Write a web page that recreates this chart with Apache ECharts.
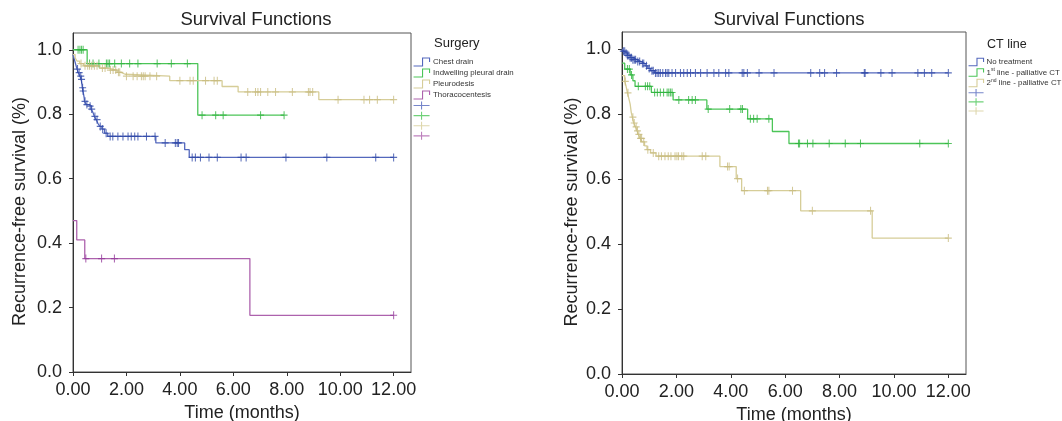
<!DOCTYPE html>
<html>
<head>
<meta charset="utf-8">
<title>Survival Functions</title>
<script src="https://cdn.jsdelivr.net/npm/echarts@6/dist/echarts.min.js"></script>
<style>
html, body { margin: 0; padding: 0; background: #fff; }
#main { width: 1062px; height: 421px; }
</style>
</head>
<body>
<div id="main"></div>
<script>
// axis ticks
var timeTicks = [0, 2, 4, 6, 8, 10, 12];
var survTicks = [0, 0.2, 0.4, 0.6, 0.8, 1.0];

// ---- left panel: Surgery ----
var chestT = [0, 0.05, 0.1, 0.15, 0.2, 0.26, 0.31, 0.33, 0.35, 0.37, 0.4, 0.42, 0.43, 0.5, 0.6, 0.68, 0.75, 0.8, 0.87, 0.93, 1.0, 1.08, 1.18, 1.3, 3.1, 4.18, 4.35, 12];
var chestS = [0.985, 0.97, 0.955, 0.94, 0.929, 0.918, 0.908, 0.895, 0.882, 0.872, 0.86, 0.85, 0.84, 0.83, 0.825, 0.816, 0.805, 0.793, 0.783, 0.772, 0.762, 0.754, 0.741, 0.731, 0.711, 0.69, 0.666, 0.666];
var chestCens = [0.17, 0.23, 0.29, 0.32, 0.36, 0.38, 0.45, 0.52, 0.64, 0.7, 0.82, 0.9, 1.02, 1.11, 1.24, 1.39, 1.49, 1.68, 1.87, 2.06, 2.18, 2.31, 2.43, 2.75, 3.07, 3.45, 3.83, 3.9, 3.95, 4.46, 4.58, 4.77, 5.09, 5.4, 6.29, 6.48, 7.97, 9.5, 11.33, 12];

var drainT = [0, 0.53, 4.67, 7.9];
var drainS = [1.0, 0.957, 0.797, 0.797];
var drainCens = [0.19, 0.26, 0.32, 0.38, 0.62, 0.75, 0.97, 1.25, 1.31, 1.37, 1.56, 1.81, 2.12, 2.43, 3.15, 3.68, 4.28, 4.83, 5.34, 5.62, 7.02, 7.9];

var pleuT = [0, 0.08, 0.15, 0.25, 0.4, 1.0, 1.3, 1.65, 1.8, 1.95, 3.62, 5.58, 6.18, 9.2, 12];
var pleuS = [0.985, 0.975, 0.965, 0.957, 0.95, 0.943, 0.937, 0.93, 0.924, 0.918, 0.904, 0.886, 0.869, 0.845, 0.845];
var pleuCens = [0.3, 0.45, 0.55, 0.62, 0.7, 0.8, 0.9, 1.1, 1.2, 1.4, 1.5, 1.6, 1.7, 1.75, 2.0, 2.25, 2.4, 2.56, 2.63, 2.7, 2.88, 3.13, 4.0, 4.38, 4.5, 4.96, 5.28, 5.4, 6.54, 6.83, 6.92, 7.02, 7.29, 7.58, 8.21, 8.81, 8.87, 8.97, 9.92, 10.89, 11.1, 11.39, 12];

var thorT = [0, 0.14, 0.44, 6.62, 12];
var thorS = [0.47, 0.41, 0.352, 0.176, 0.176];
var thorCens = [0.48, 1.07, 1.55, 12];

// ---- right panel: CT line ----
var noT = [0, 0.05, 0.12, 0.2, 0.3, 0.4, 0.55, 0.7, 0.85, 0.95, 1.05, 1.2, 12];
var noS = [1.0, 0.993, 0.987, 0.98, 0.973, 0.967, 0.961, 0.955, 0.948, 0.94, 0.933, 0.926, 0.926];
var noCens = [0.05, 0.1, 0.15, 0.2, 0.25, 0.3, 0.35, 0.4, 0.45, 0.5, 0.58, 0.65, 0.75, 0.8, 0.9, 1.0, 1.1, 1.15, 1.23, 1.29, 1.35, 1.41, 1.5, 1.6, 1.66, 1.72, 1.84, 1.97, 2.15, 2.27, 2.4, 2.52, 2.7, 2.89, 3.13, 3.38, 3.56, 3.81, 3.93, 4.42, 4.48, 4.61, 5.04, 5.59, 6.94, 7.27, 7.45, 7.89, 8.91, 8.94, 9.52, 9.93, 10.88, 11.12, 11.39, 12];

var firstT = [0, 0.1, 0.3, 0.4, 0.48, 1.08, 1.88, 3.12, 4.62, 5.53, 6.14, 12];
var firstS = [0.956, 0.938, 0.92, 0.902, 0.885, 0.866, 0.843, 0.815, 0.785, 0.746, 0.709, 0.709];
var firstCens = [0.2, 0.27, 0.35, 0.6, 0.86, 0.94, 1.02, 1.2, 1.3, 1.41, 1.53, 1.66, 1.72, 1.78, 1.84, 2.09, 2.45, 2.58, 2.7, 3.17, 3.96, 4.37, 4.43, 4.72, 4.84, 4.97, 5.4, 6.49, 6.53, 6.82, 7.02, 7.62, 8.21, 8.77, 10.95, 12];

var secondT = [0, 0.1, 0.15, 0.2, 0.25, 0.3, 0.34, 0.38, 0.43, 0.5, 0.55, 0.6, 0.67, 0.74, 0.83, 0.92, 1.05, 1.25, 3.6, 4.2, 4.4, 6.57, 9.2, 12];
var secondS = [0.918, 0.9, 0.885, 0.865, 0.848, 0.83, 0.805, 0.79, 0.772, 0.76, 0.748, 0.737, 0.725, 0.714, 0.702, 0.69, 0.68, 0.67, 0.638, 0.601, 0.564, 0.502, 0.418, 0.418];
var secondCens = [0.12, 0.22, 0.4, 0.45, 0.52, 0.57, 0.62, 0.68, 0.72, 0.8, 0.95, 1.15, 1.35, 1.45, 1.58, 1.7, 1.8, 1.95, 2.02, 2.08, 2.2, 2.27, 2.95, 3.08, 3.88, 3.94, 4.25, 4.5, 5.35, 5.4, 6.27, 7.0, 9.14, 12];

var FONT = 'Liberation Sans, Arial, Helvetica, sans-serif';
var BLUE = '#5468bd', BLUE_M = '#3048a8';
var GREEN = '#4cc558', GREEN_M = '#2fb43e';
var TAN = '#d6cd98', TAN_M = '#c8bc80';
var PURPLE = '#ad62ad', PURPLE_M = '#93399a';

var stepIcon = 'path://M0,8L9,8L9,0L16,0L16,4';
var crossIcon = 'path://M0,4L16,4M8,0L8,8';
var crossMark = 'path://M0,5L10,5M5,0L5,10';

// value of the step curve at time t
function survAt(T, S, t) {
    var v = S[0];
    for (var i = 0; i < T.length; i++) {
        if (T[i] <= t) v = S[i];
    }
    return v;
}

function curve(name, T, S, idx, color) {
    return {
        name: name, type: 'line', step: 'end',
        xAxisIndex: idx, yAxisIndex: idx,
        showSymbol: false, silent: true,
        lineStyle: { color: color, width: 1.3 },
        itemStyle: { color: color },
        data: T.map(function (t, i) { return [t, S[i]]; }),
        z: 2
    };
}

function marks(name, T, S, cens, idx, color) {
    return {
        name: name, type: 'scatter',
        xAxisIndex: idx, yAxisIndex: idx,
        symbol: crossMark, symbolSize: [7, 8], silent: true,
        itemStyle: { color: 'rgba(0,0,0,0)', borderColor: color, borderWidth: 1.1 },
        data: cens.map(function (t) { return [t, survAt(T, S, t)]; }),
        z: 3
    };
}

function legendItem(name, icon, color) {
    return { name: name, icon: icon, itemStyle: { color: 'rgba(0,0,0,0)', borderColor: color, borderWidth: 1.1 } };
}

function xAxisOf(idx) {
    return {
        type: 'value', gridIndex: idx, min: 0, max: 12.65,
        name: 'Time (months)', nameLocation: 'middle', nameGap: 31,
        nameTextStyle: { fontFamily: FONT, fontSize: 18, color: '#222' },
        axisLine: { show: true, onZero: false, lineStyle: { color: '#333', width: 1 } },
        axisTick: { show: true, length: 4, customValues: timeTicks, lineStyle: { color: '#333' } },
        axisLabel: { customValues: timeTicks, margin: 9, fontFamily: FONT, fontSize: 18, color: '#222',
            formatter: function (v) { return v.toFixed(2); } },
        splitLine: { show: false }
    };
}

function yAxisOf(idx, gap) {
    return {
        type: 'value', gridIndex: idx, min: 0, max: 1.052,
        name: 'Recurrence-free survival (%)', nameLocation: 'middle', nameGap: gap,
        nameTextStyle: { fontFamily: FONT, fontSize: 18, color: '#222', padding: [0, 18, 0, 0] },
        axisLine: { show: true, lineStyle: { color: '#333', width: 1 } },
        axisTick: { show: true, length: 4, customValues: survTicks, lineStyle: { color: '#333' } },
        axisLabel: { customValues: survTicks, margin: 11, fontFamily: FONT, fontSize: 18, color: '#222',
            formatter: function (v) { return v.toFixed(1); } },
        splitLine: { show: false }
    };
}

var legendText = {
    'Chest drain': 'Chest drain',
    'Indwelling pleural drain': 'Indwelling pleural drain',
    'Pleurodesis': 'Pleurodesis',
    'Thoracocentesis': 'Thoracocentesis',
    'No treatment': 'No treatment',
    '1st line - palliative CT': '1{sup|st} line - palliative CT',
    '2nd line - palliative CT': '2{sup|nd} line - palliative CT'
};

var legendBase = {
    orient: 'vertical', padding: 0, itemWidth: 17, itemHeight: 8, itemGap: 1,
    selectedMode: false,
    textStyle: { fontFamily: FONT, fontSize: 7.9, lineHeight: 10, color: '#333', padding: [0, 0, 0, -2],
        rich: { sup: { fontSize: 5, lineHeight: 10, verticalAlign: 'top', padding: [0, 0, 4, 0], color: '#333' } } },
    formatter: function (name) { return legendText[name] || ''; }
};

var myChart = echarts.init(document.getElementById('main'), null, { renderer: 'canvas' });

myChart.setOption({
    animation: false,
    backgroundColor: '#fff',
    title: [
        { text: 'Survival Functions', left: 256, top: 10, textAlign: 'center', padding: 0,
          textStyle: { fontFamily: FONT, fontSize: 18.5, fontWeight: 'normal', color: '#222' } },
        { text: 'Surgery', left: 434, top: 37, padding: 0,
          textStyle: { fontFamily: FONT, fontSize: 13, fontWeight: 'normal', color: '#222' } },
        { text: 'Survival Functions', left: 789, top: 10, textAlign: 'center', padding: 0,
          textStyle: { fontFamily: FONT, fontSize: 18.5, fontWeight: 'normal', color: '#222' } },
        { text: 'CT line', left: 987, top: 38, padding: 0,
          textStyle: { fontFamily: FONT, fontSize: 12.5, fontWeight: 'normal', color: '#222' } }
    ],
    grid: [
        { left: 73, top: 33, width: 338, height: 339, outerBoundsMode: 'none',
          show: true, borderColor: '#555', borderWidth: 1, backgroundColor: 'transparent' },
        { left: 622, top: 32, width: 344, height: 342, outerBoundsMode: 'none',
          show: true, borderColor: '#555', borderWidth: 1, backgroundColor: 'transparent' }
    ],
    xAxis: [xAxisOf(0), xAxisOf(1)],
    yAxis: [yAxisOf(0, 44), yAxisOf(1, 41)],
    legend: [
        Object.assign({}, legendBase, {
            left: 413, top: 57,
            data: [
                legendItem('Chest drain', stepIcon, BLUE),
                legendItem('Indwelling pleural drain', stepIcon, GREEN),
                legendItem('Pleurodesis', stepIcon, TAN),
                legendItem('Thoracocentesis', stepIcon, PURPLE),
                legendItem('Chest drain censored', crossIcon, BLUE),
                legendItem('Indwelling pleural drain censored', crossIcon, GREEN),
                legendItem('Pleurodesis censored', crossIcon, TAN),
                legendItem('Thoracocentesis censored', crossIcon, PURPLE)
            ]
        }),
        Object.assign({}, legendBase, {
            left: 968, top: 57, itemWidth: 15, itemGap: 0.5,
            data: [
                legendItem('No treatment', stepIcon, BLUE),
                legendItem('1st line - palliative CT', stepIcon, GREEN),
                legendItem('2nd line - palliative CT', stepIcon, TAN),
                legendItem('No treatment censored', crossIcon, BLUE),
                legendItem('1st line - palliative CT censored', crossIcon, GREEN),
                legendItem('2nd line - palliative CT censored', crossIcon, TAN)
            ]
        })
    ],
    series: [
        curve('Chest drain', chestT, chestS, 0, BLUE),
        curve('Indwelling pleural drain', drainT, drainS, 0, GREEN),
        curve('Pleurodesis', pleuT, pleuS, 0, TAN),
        curve('Thoracocentesis', thorT, thorS, 0, PURPLE),
        marks('Chest drain censored', chestT, chestS, chestCens, 0, BLUE_M),
        marks('Indwelling pleural drain censored', drainT, drainS, drainCens, 0, GREEN_M),
        marks('Pleurodesis censored', pleuT, pleuS, pleuCens, 0, TAN_M),
        marks('Thoracocentesis censored', thorT, thorS, thorCens, 0, PURPLE_M),
        curve('No treatment', noT, noS, 1, BLUE),
        curve('1st line - palliative CT', firstT, firstS, 1, GREEN),
        curve('2nd line - palliative CT', secondT, secondS, 1, TAN),
        marks('No treatment censored', noT, noS, noCens, 1, BLUE_M),
        marks('1st line - palliative CT censored', firstT, firstS, firstCens, 1, GREEN_M),
        marks('2nd line - palliative CT censored', secondT, secondS, secondCens, 1, TAN_M)
    ]
});
</script>
</body>
</html>
